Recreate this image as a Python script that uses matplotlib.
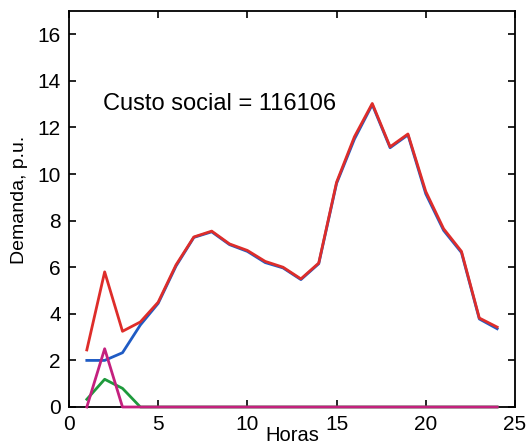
import matplotlib
matplotlib.use("Agg")
import matplotlib.pyplot as plt

plt.rcParams['font.family'] = ['Liberation Sans', 'DejaVu Sans']

horas = list(range(1, 25))
total = [2.45, 5.8, 3.25, 3.65, 4.5, 6.1, 7.3, 7.55, 7.0, 6.72, 6.25, 6.0,
         5.5, 6.18, 9.65, 11.6, 13.03, 11.17, 11.72, 9.25, 7.65, 6.68, 3.82, 3.43]
demanda_1 = [2.0, 2.0, 2.33, 3.52, 4.45, 6.05, 7.28, 7.52, 6.97, 6.68, 6.2, 5.97,
             5.47, 6.15, 9.6, 11.5, 12.98, 11.13, 11.68, 9.15, 7.58, 6.63, 3.78, 3.36]
demanda_2 = [0.33, 1.19, 0.8, 0.0] + [0.0] * 20
demanda_3 = [0.0, 2.5, 0.0, 0.0] + [0.0] * 20
texto = "Custo social = 116106"

fig = plt.figure(figsize=(5.29, 4.45), dpi=100)
ax = fig.add_axes([0.1304, 0.0854, 0.8431, 0.8899])

ax.plot(horas, demanda_1, color='#1f5bc4', lw=2.0, clip_on=False, zorder=3)
ax.plot(horas, demanda_2, color='#1e9a3c', lw=2.0, clip_on=False, zorder=3)
ax.plot(horas, demanda_3, color='#c4207e', lw=2.0, clip_on=False, zorder=3)
ax.plot(horas, total, color='#de2d2a', lw=2.0, clip_on=False, zorder=3)

ax.set_xlim(0, 25)
ax.set_ylim(0, 17)
ax.set_xticks([0, 5, 10, 15, 20, 25])
ax.set_yticks([0, 2, 4, 6, 8, 10, 12, 14, 16])
ax.tick_params(direction='in', length=5, width=1.2, top=True, right=True,
               labelsize=15, pad=6)
for s in ax.spines.values():
    s.set_linewidth(1.3)

ax.text(1.9, 13.0, texto, fontsize=17, va='center', ha='left')

ax.set_xlabel("Horas", fontsize=14.5)
ax.xaxis.set_label_coords(0.5, -0.048)
ax.set_ylabel("Demanda, p.u.", fontsize=14)
ax.yaxis.set_label_coords(-0.093, 0.523)

fig.savefig("out.png", dpi=100)
